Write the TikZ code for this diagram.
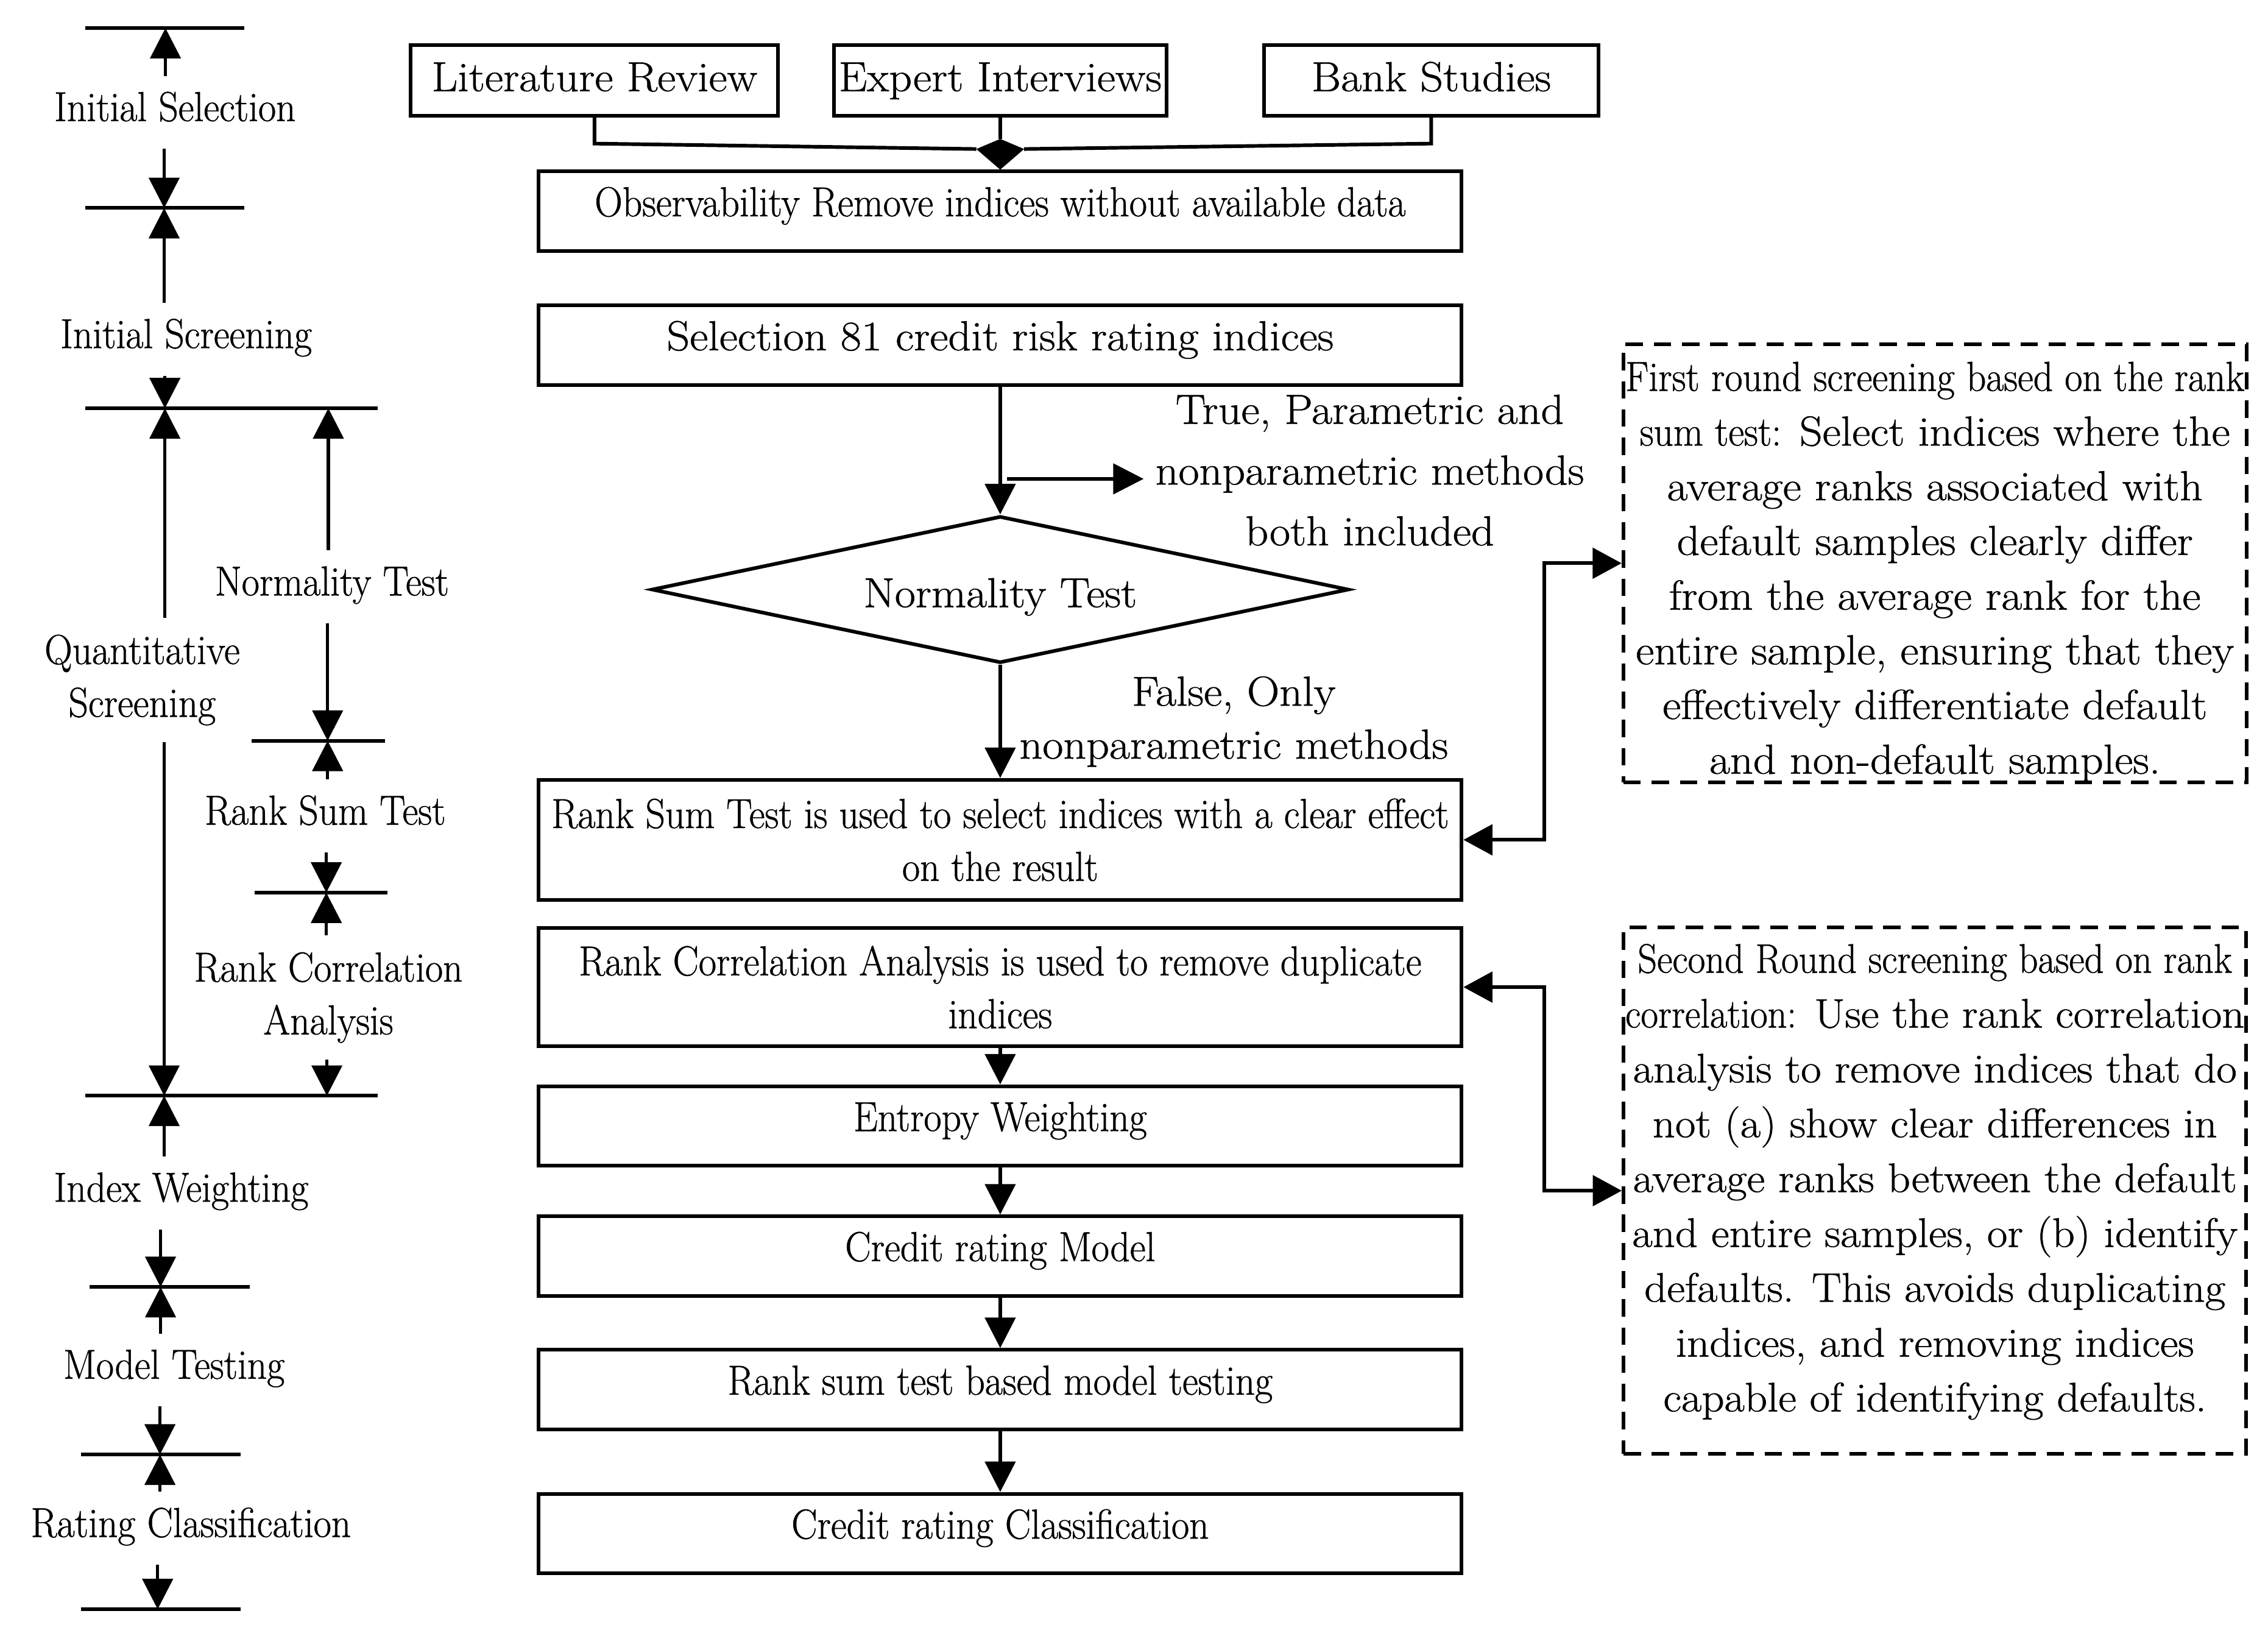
\documentclass[tikz,border=0pt]{standalone}
\usepackage{fontspec}
\setmainfont{Latin Modern Roman}[FakeStretch=1.075, FakeBold=0.8]
\newfontfamily\condfont{Latin Modern Roman}[FakeStretch=0.92, FakeBold=0.8]
\usetikzlibrary{arrows.meta, positioning, shapes.geometric}
\newcommand{\bodytxt}{\fontsize{29}{37.8}\selectfont}

\tikzset{
  flow/.style={draw, line width=2.5pt, minimum width=638pt, inner sep=0pt, align=center, font=\condfont\bodytxt},
  onebox/.style={flow, minimum height=55pt, text height=20pt, text depth=13pt},
  twobox/.style={flow, minimum height=83pt, font=\condfont\fontsize{29}{36.5}\selectfont},
  srcbox/.style={draw, line width=2.5pt, minimum height=49pt, inner sep=0pt, text height=20pt, text depth=5pt, font=\bodytxt},
  notebox/.style={draw, dash pattern=on 12pt off 7.5pt, line width=2.5pt, inner sep=0pt, align=center, font=\bodytxt},
  stage/.style={inner xsep=0pt, inner ysep=10pt, text height=21pt, text depth=9pt, anchor=base, font=\condfont\bodytxt},
  stagetwo/.style={inner xsep=0pt, inner ysep=11.5pt, anchor=north, align=center, font=\condfont\fontsize{29}{36.5}\selectfont},
  arr/.style={-{Triangle[length=21pt,width=21pt]}, line width=2.2pt},
  dbl/.style={{Triangle[length=20pt,width=21pt]}-{Triangle[length=20pt,width=21pt]}, line width=2.5pt},
  link/.style={line width=2.5pt},
  tick/.style={line width=2.5pt},
}

\begin{document}
\begin{tikzpicture}[x=1pt, y=-1pt]
  \useasboundingbox (0,0) rectangle (1568,1130.8);

  % Stage scale on the left
  \draw[tick] (59,19.4) -- (169,19.4);
  \draw[tick] (59,143.8) -- (169,143.8);
  \draw[tick] (59,282.2) -- (261,282.2);
  \draw[tick] (174,512) -- (266,512);
  \draw[tick] (176,617) -- (268,617);
  \draw[tick] (59,757.4) -- (261,757.4);
  \draw[tick] (62,889.6) -- (172.5,889.6);
  \draw[tick] (56,1005.4) -- (166.5,1005.4);
  \draw[tick] (56,1112.3) -- (166.5,1112.3);
  \coordinate (t1) at (114.4,19.4);
  \coordinate (t2) at (113.5,143.8);
  \coordinate (t3) at (114,282.2);
  \coordinate (t3r) at (227,282.2);
  \coordinate (t4) at (226.5,512);
  \coordinate (t5) at (225.6,617);
  \coordinate (t6) at (113.5,757.4);
  \coordinate (t6r) at (226,757.4);
  \coordinate (t7) at (111,889.6);
  \coordinate (t8) at (110.6,1005.4);
  \coordinate (t9) at (109,1112.3);

  \node[stage] (isel) at (121,83.7) {Initial Selection};
  \node[stage] (iscr) at (128.7,240.6) {Initial Screening};
  \node[stagetwo] (qscr) at (98.3,427) {Quantitative\\Screening};
  \node[stage] (lnorm) at (229.5,411.6) {Normality Test};
  \node[stage] (lrst) at (224.8,570) {Rank Sum Test};
  \node[stagetwo] (lrca) at (227,646.5) {Rank Correlation\\Analysis};
  \node[stage] (iwt) at (125.3,830.6) {Index Weighting};
  \node[stage] (mtst) at (120.3,953) {Model Testing};
  \node[stage] (rcls) at (132,1062.4) {Rating Classification};

  \draw[arr] (isel.north -| t1) -- (t1);
  \draw[arr] (isel.south -| t2) -- (t2);
  \draw[arr] (iscr.north -| t2) -- (t2);
  \draw[arr] (iscr.south -| t3) -- (t3);
  \draw[arr] (qscr.north -| t3) -- (t3);
  \draw[arr] (qscr.south -| t6) -- (t6);
  \draw[arr] (lnorm.north -| t3r) -- (t3r);
  \draw[arr] (lnorm.south -| t4) -- (t4);
  \draw[arr] (lrst.north -| t4) -- (t4);
  \draw[arr] (lrst.south -| t5) -- (t5);
  \draw[arr] (lrca.north -| t5) -- (t5);
  \draw[arr] (lrca.south -| t6r) -- (t6r);
  \draw[arr] (iwt.north -| t6) -- (t6);
  \draw[arr] (iwt.south -| t7) -- (t7);
  \draw[arr] (mtst.north -| t7) -- (t7);
  \draw[arr] (mtst.south -| t8) -- (t8);
  \draw[arr] (rcls.north -| t8) -- (t8);
  \draw[arr] (rcls.south -| t9) -- (t9);

  % Sources
  \node[srcbox, minimum width=254pt] (lit) at (411,55.5) {Literature Review};
  \node[srcbox, minimum width=230pt] (exp) at (691.5,55.5) {Expert Interviews};
  \node[srcbox, minimum width=231pt] (bank) at (989.5,55.5) {Bank Studies};

  % Main flow
  \node[onebox] (obs) at (691.5,146) {Observability Remove indices without available data};
  \node[onebox, font=\bodytxt] (sel) at (691.5,238.6) {Selection 81 credit risk rating indices};
  \node[draw, diamond, aspect=4.75, minimum width=482pt, minimum height=101.5pt, inner sep=0pt,
        line width=2.5pt, text height=30pt, text depth=5.6pt, font=\bodytxt] (nt) at (691.5,407.5) {Normality Test};
  \node[twobox] (rs) at (691.5,580.5) {Rank Sum Test is used to select indices with a clear effect\\on the result};
  \node[twobox, minimum height=81.5pt] (rc) at (691.5,682.3) {Rank Correlation Analysis is used to remove duplicate\\indices};
  \node[onebox] (ent) at (691.5,778.3) {Entropy Weighting};
  \node[onebox] (crm) at (691.5,868.2) {Credit rating Model};
  \node[onebox] (rst) at (691.5,960.5) {Rank sum test based model testing};
  \node[onebox] (crc) at (691.5,1060) {Credit rating Classification};

  % Merge of the sources
  \coordinate (kt) at (691.5,96);
  \coordinate (kl) at (675,103);
  \coordinate (kr) at (708,103);
  \draw[link] (lit.south) -- ++(0,18) -- (kl);
  \draw[link] (bank.south) -- ++(0,18) -- (kr);
  \draw[link] (exp.south) -- (kt);
  \fill (kt) -- (kr) -- (obs.north) -- (kl) -- cycle;

  % Branch labels
  \node[anchor=north, align=center, inner xsep=8pt, inner ysep=0pt, font=\fontsize{29}{42}\selectfont] (tlab) at (947,272.6)
    {True, Parametric and\\nonparametric methods\\both included};
  \node[anchor=north, align=center, inner sep=0pt, font=\fontsize{29}{36.6}\selectfont] (flab) at (853,467.3)
    {False, Only\\nonparametric methods};
  \coordinate (br) at (696,331);

  \draw[arr] (sel.south) -- (nt.north);
  \draw[arr] (br) -- (br -| tlab.west);
  \draw[arr] (nt.south) -- (rs.north);
  \draw[arr] (rc.south) -- (ent.north);
  \draw[arr] (ent.south) -- (crm.north);
  \draw[arr] (crm.south) -- (rst.north);
  \draw[arr] (rst.south) -- (crc.north);

  % Screening notes
  \node[notebox, minimum width=430.7pt, minimum height=302.6pt] (fr) at (1337.7,389.3)
    {\rule{0pt}{32pt}{\condfont First round screening based on the rank}\\
     {\condfont sum test:} Select indices where the\\
     average ranks associated with\\
     default samples clearly differ\\
     from the average rank for the\\
     entire sample, ensuring that they\\
     effectively differentiate default\\
     and non-default samples.};
  \node[notebox, minimum width=430.5pt, minimum height=364pt, font=\fontsize{28.5}{37.9}\selectfont] (sr) at (1337.7,823)
    {{\condfont Second Round screening based on rank}\\
     {\condfont correlation:} Use the rank correlation\\
     analysis to remove indices that do\\
     not (a) show clear differences in\\
     average ranks between the default\\
     and entire samples, or (b) identify\\
     defaults. This avoids duplicating\\
     indices, and removing indices\\
     capable of identifying defaults.\rule[-18pt]{0pt}{18pt}};

  \draw[dbl] (rs.east) -- ++(56,0) |- (fr.west);
  \draw[dbl] (rc.east) -- ++(56,0) |- (sr.west);
\end{tikzpicture}
\end{document}
